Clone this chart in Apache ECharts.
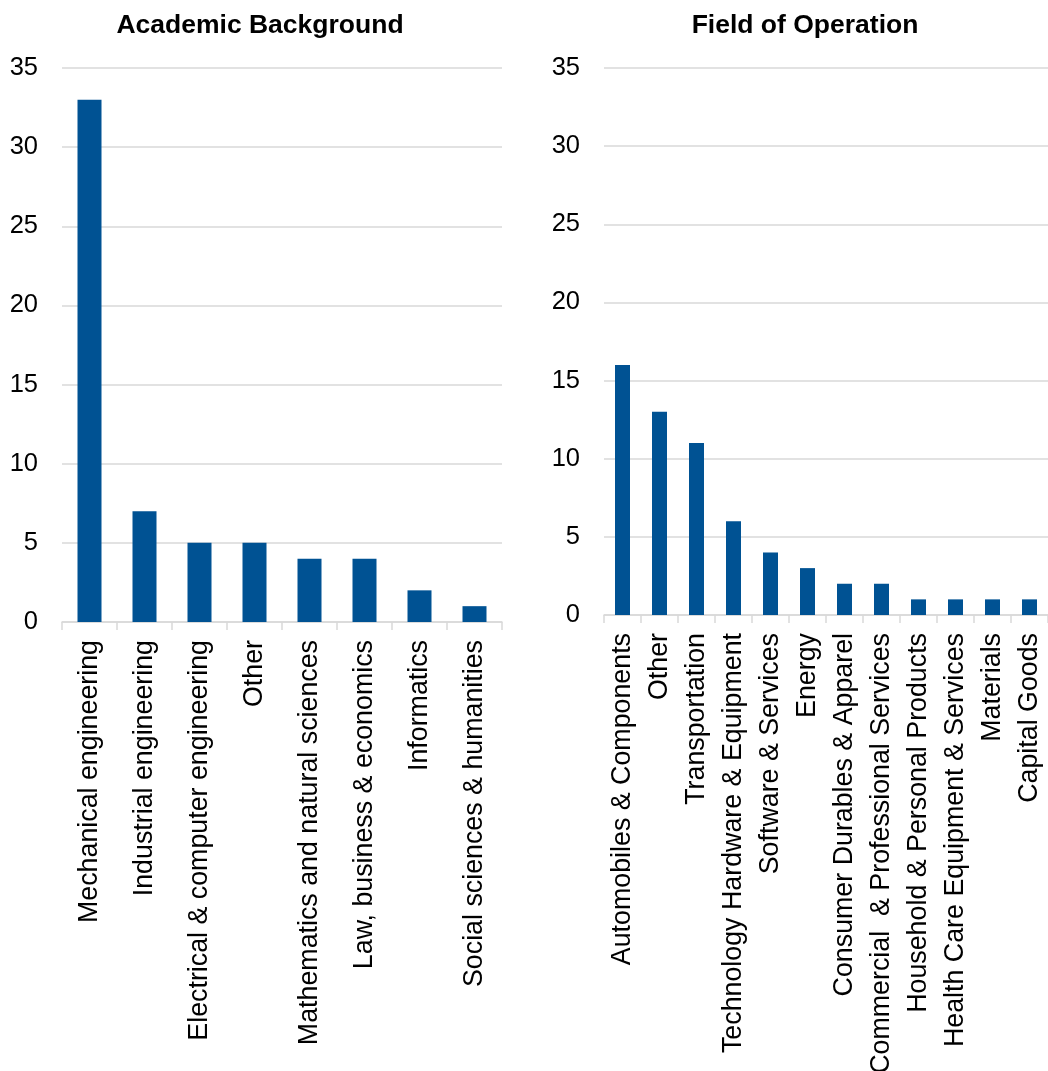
<!DOCTYPE html>
<html>
<head>
<meta charset="utf-8">
<script src="https://cdn.jsdelivr.net/npm/echarts@6/dist/echarts.min.js"></script>
<style>
  html, body { margin: 0; padding: 0; background: #fff; }
  #chart { width: 1048px; height: 1071px; }
</style>
</head>
<body>
<div id="chart"></div>
<script>
// academic background (left panel)
const academicCats = [
  'Mechanical engineering',
  'Industrial engineering',
  'Electrical & computer engineering',
  'Other',
  'Mathematics and natural sciences',
  'Law, business & economics',
  'Informatics',
  'Social sciences & humanities'
];
const academicVals = [33, 7, 5, 5, 4, 4, 2, 1];

// field of operation (right panel)
const fieldCats = [
  'Automobiles & Components',
  'Other',
  'Transportation',
  'Technology Hardware & Equipment',
  'Software & Services',
  'Energy',
  'Consumer Durables & Apparel',
  'Commercial  & Professional Services',
  'Household & Personal Products',
  'Health Care Equipment & Services',
  'Materials',
  'Capital Goods'
];
const fieldVals = [16, 13, 11, 6, 4, 3, 2, 2, 1, 1, 1, 1];

const yTicks = [0, 5, 10, 15, 20, 25, 30, 35];

const FONT = '"Liberation Sans", Arial, sans-serif';
const BAR = '#005293';
const LINE = '#d9d9d9';

function xAxisFor(cats, gridIndex) {
  return {
    type: 'category',
    gridIndex: gridIndex,
    data: cats,
    axisLine: { lineStyle: { color: LINE, width: 1.5 } },
    axisTick: { show: true, length: 8, lineStyle: { color: LINE, width: 1.5 } },
    axisLabel: {
      interval: 0,
      rotate: 90,
      margin: 18,
      color: '#000',
      fontFamily: FONT,
      fontSize: 26.8
    }
  };
}

function yAxisFor(gridIndex) {
  return {
    type: 'value',
    gridIndex: gridIndex,
    min: yTicks[0],
    max: yTicks[yTicks.length - 1],
    interval: 5,
    axisLine: { show: false },
    axisTick: { show: false },
    splitLine: { lineStyle: { color: LINE, width: 1.5 } },
    axisLabel: { margin: 24, color: '#000', fontFamily: FONT, fontSize: 25.5 }
  };
}

const chart = echarts.init(document.getElementById('chart'));
chart.setOption({
  animation: false,
  title: [
    {
      text: 'Academic Background',
      left: 255, top: 7, textAlign: 'center',
      textStyle: { fontFamily: FONT, fontSize: 26.5, fontWeight: 'bold', color: '#000' }
    },
    {
      text: 'Field of Operation',
      left: 800, top: 7, textAlign: 'center',
      textStyle: { fontFamily: FONT, fontSize: 26.5, fontWeight: 'bold', color: '#000' }
    }
  ],
  grid: [
    { left: 62, top: 68, width: 440, height: 554, outerBoundsMode: 'none' },
    { left: 604, top: 68, width: 444, height: 547, outerBoundsMode: 'none' }
  ],
  xAxis: [xAxisFor(academicCats, 0), xAxisFor(fieldCats, 1)],
  yAxis: [yAxisFor(0), yAxisFor(1)],
  series: [
    {
      type: 'bar', xAxisIndex: 0, yAxisIndex: 0,
      data: academicVals, barWidth: 24,
      itemStyle: { color: BAR }
    },
    {
      type: 'bar', xAxisIndex: 1, yAxisIndex: 1,
      data: fieldVals, barWidth: 15,
      itemStyle: { color: BAR }
    }
  ]
});
</script>
</body>
</html>
